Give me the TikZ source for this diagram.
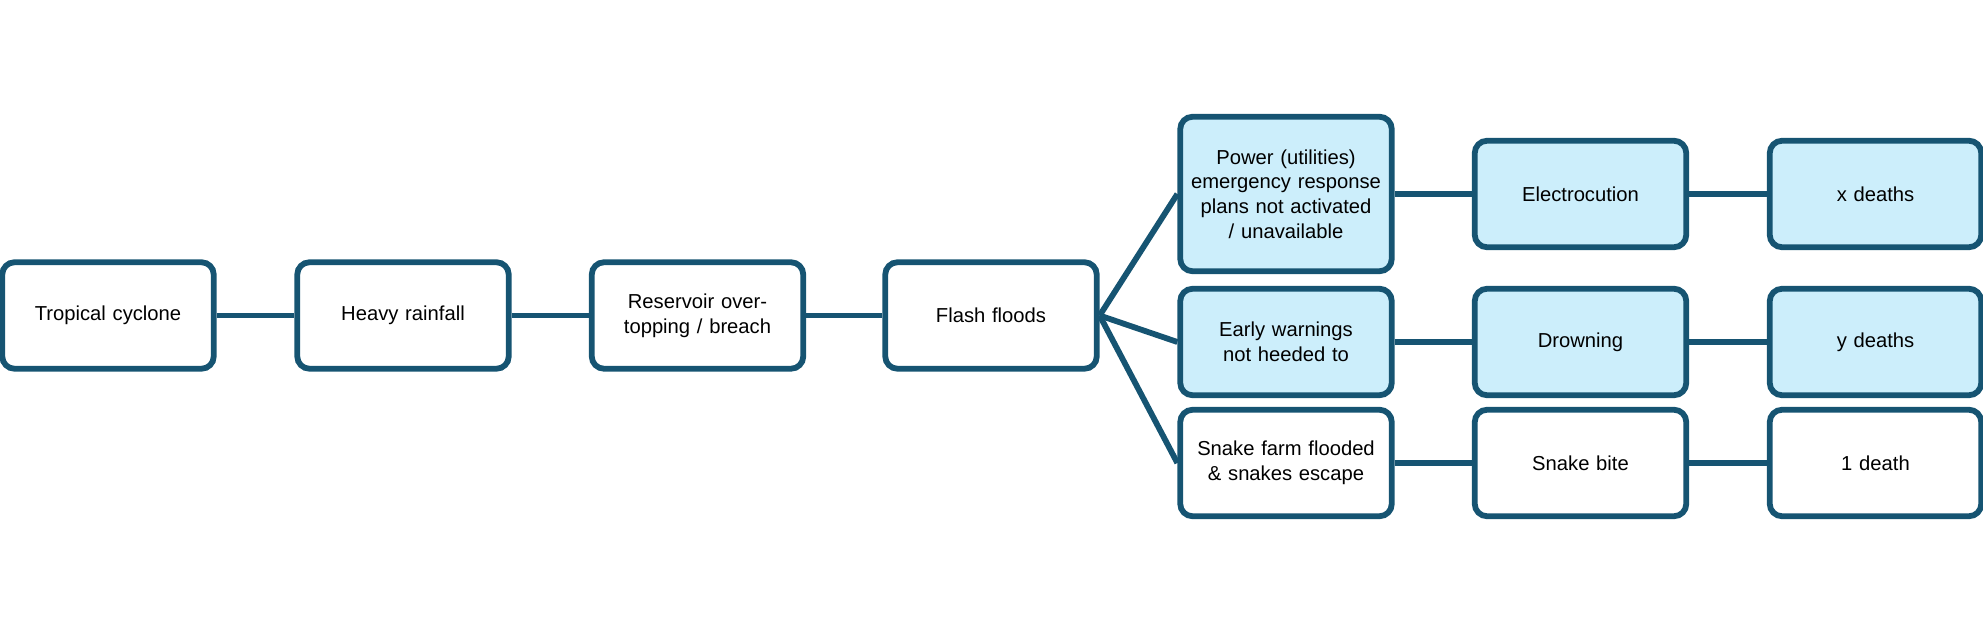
\documentclass[tikz,border=0pt]{standalone}
\usepackage{fontspec}
\setmainfont{Liberation Sans}
\usetikzlibrary{positioning}
\definecolor{boxline}{RGB}{22,84,114}
\definecolor{boxfill}{RGB}{204,238,251}
\begin{document}
\begin{tikzpicture}
\tikzstyle{stepbox}=[draw=boxline,line width=3.3pt,rounded corners=7pt,fill=white,minimum width=4.23cm,minimum height=2.13cm,text width=3.9cm,align=center,font=\fontsize{11.5}{14}\selectfont];
\tikzstyle{hotbox}=[stepbox,fill=boxfill];
\tikzstyle{link}=[draw=boxline,line width=3.3pt];

\useasboundingbox (0,0) rectangle (39.66,12.56);

% main chain
\node [stepbox] (cyclone) at (2.16,6.25) {Tropical cyclone};
\node [stepbox] (rain) at (8.06,6.25) {Heavy rainfall};
\node [stepbox] (reservoir) at (13.95,6.25) {Reservoir overtopping / breach};
\node [stepbox] (flood) at (19.82,6.25) {Flash floods};

% branches
\node [hotbox,minimum height=3.09cm] (power) at (25.72,8.68) {Power (utilities) emergency response plans not activated / unavailable};
\node [hotbox] (warning) at (25.72,5.72) {Early warnings not heeded to};
\node [stepbox] (farm) at (25.72,3.30) {Snake farm flooded \& snakes escape};

\node [hotbox] (electro) at (31.61,8.68) {Electrocution};
\node [hotbox] (drown) at (31.61,5.72) {Drowning};
\node [stepbox] (bite) at (31.61,3.30) {Snake bite};

\node [hotbox] (xdeaths) at (37.51,8.68) {x deaths};
\node [hotbox] (ydeaths) at (37.51,5.72) {y deaths};
\node [stepbox] (onedeath) at (37.51,3.30) {1 death};

\draw [link] (cyclone) -- (rain);
\draw [link] (rain) -- (reservoir);
\draw [link] (reservoir) -- (flood);
\draw [link] (flood.east) -- (power.west);
\draw [link] (flood.east) -- (warning.west);
\draw [link] (flood.east) -- (farm.west);
\draw [link] (power) -- (electro);
\draw [link] (electro) -- (xdeaths);
\draw [link] (warning) -- (drown);
\draw [link] (drown) -- (ydeaths);
\draw [link] (farm) -- (bite);
\draw [link] (bite) -- (onedeath);

\end{tikzpicture}
\end{document}
